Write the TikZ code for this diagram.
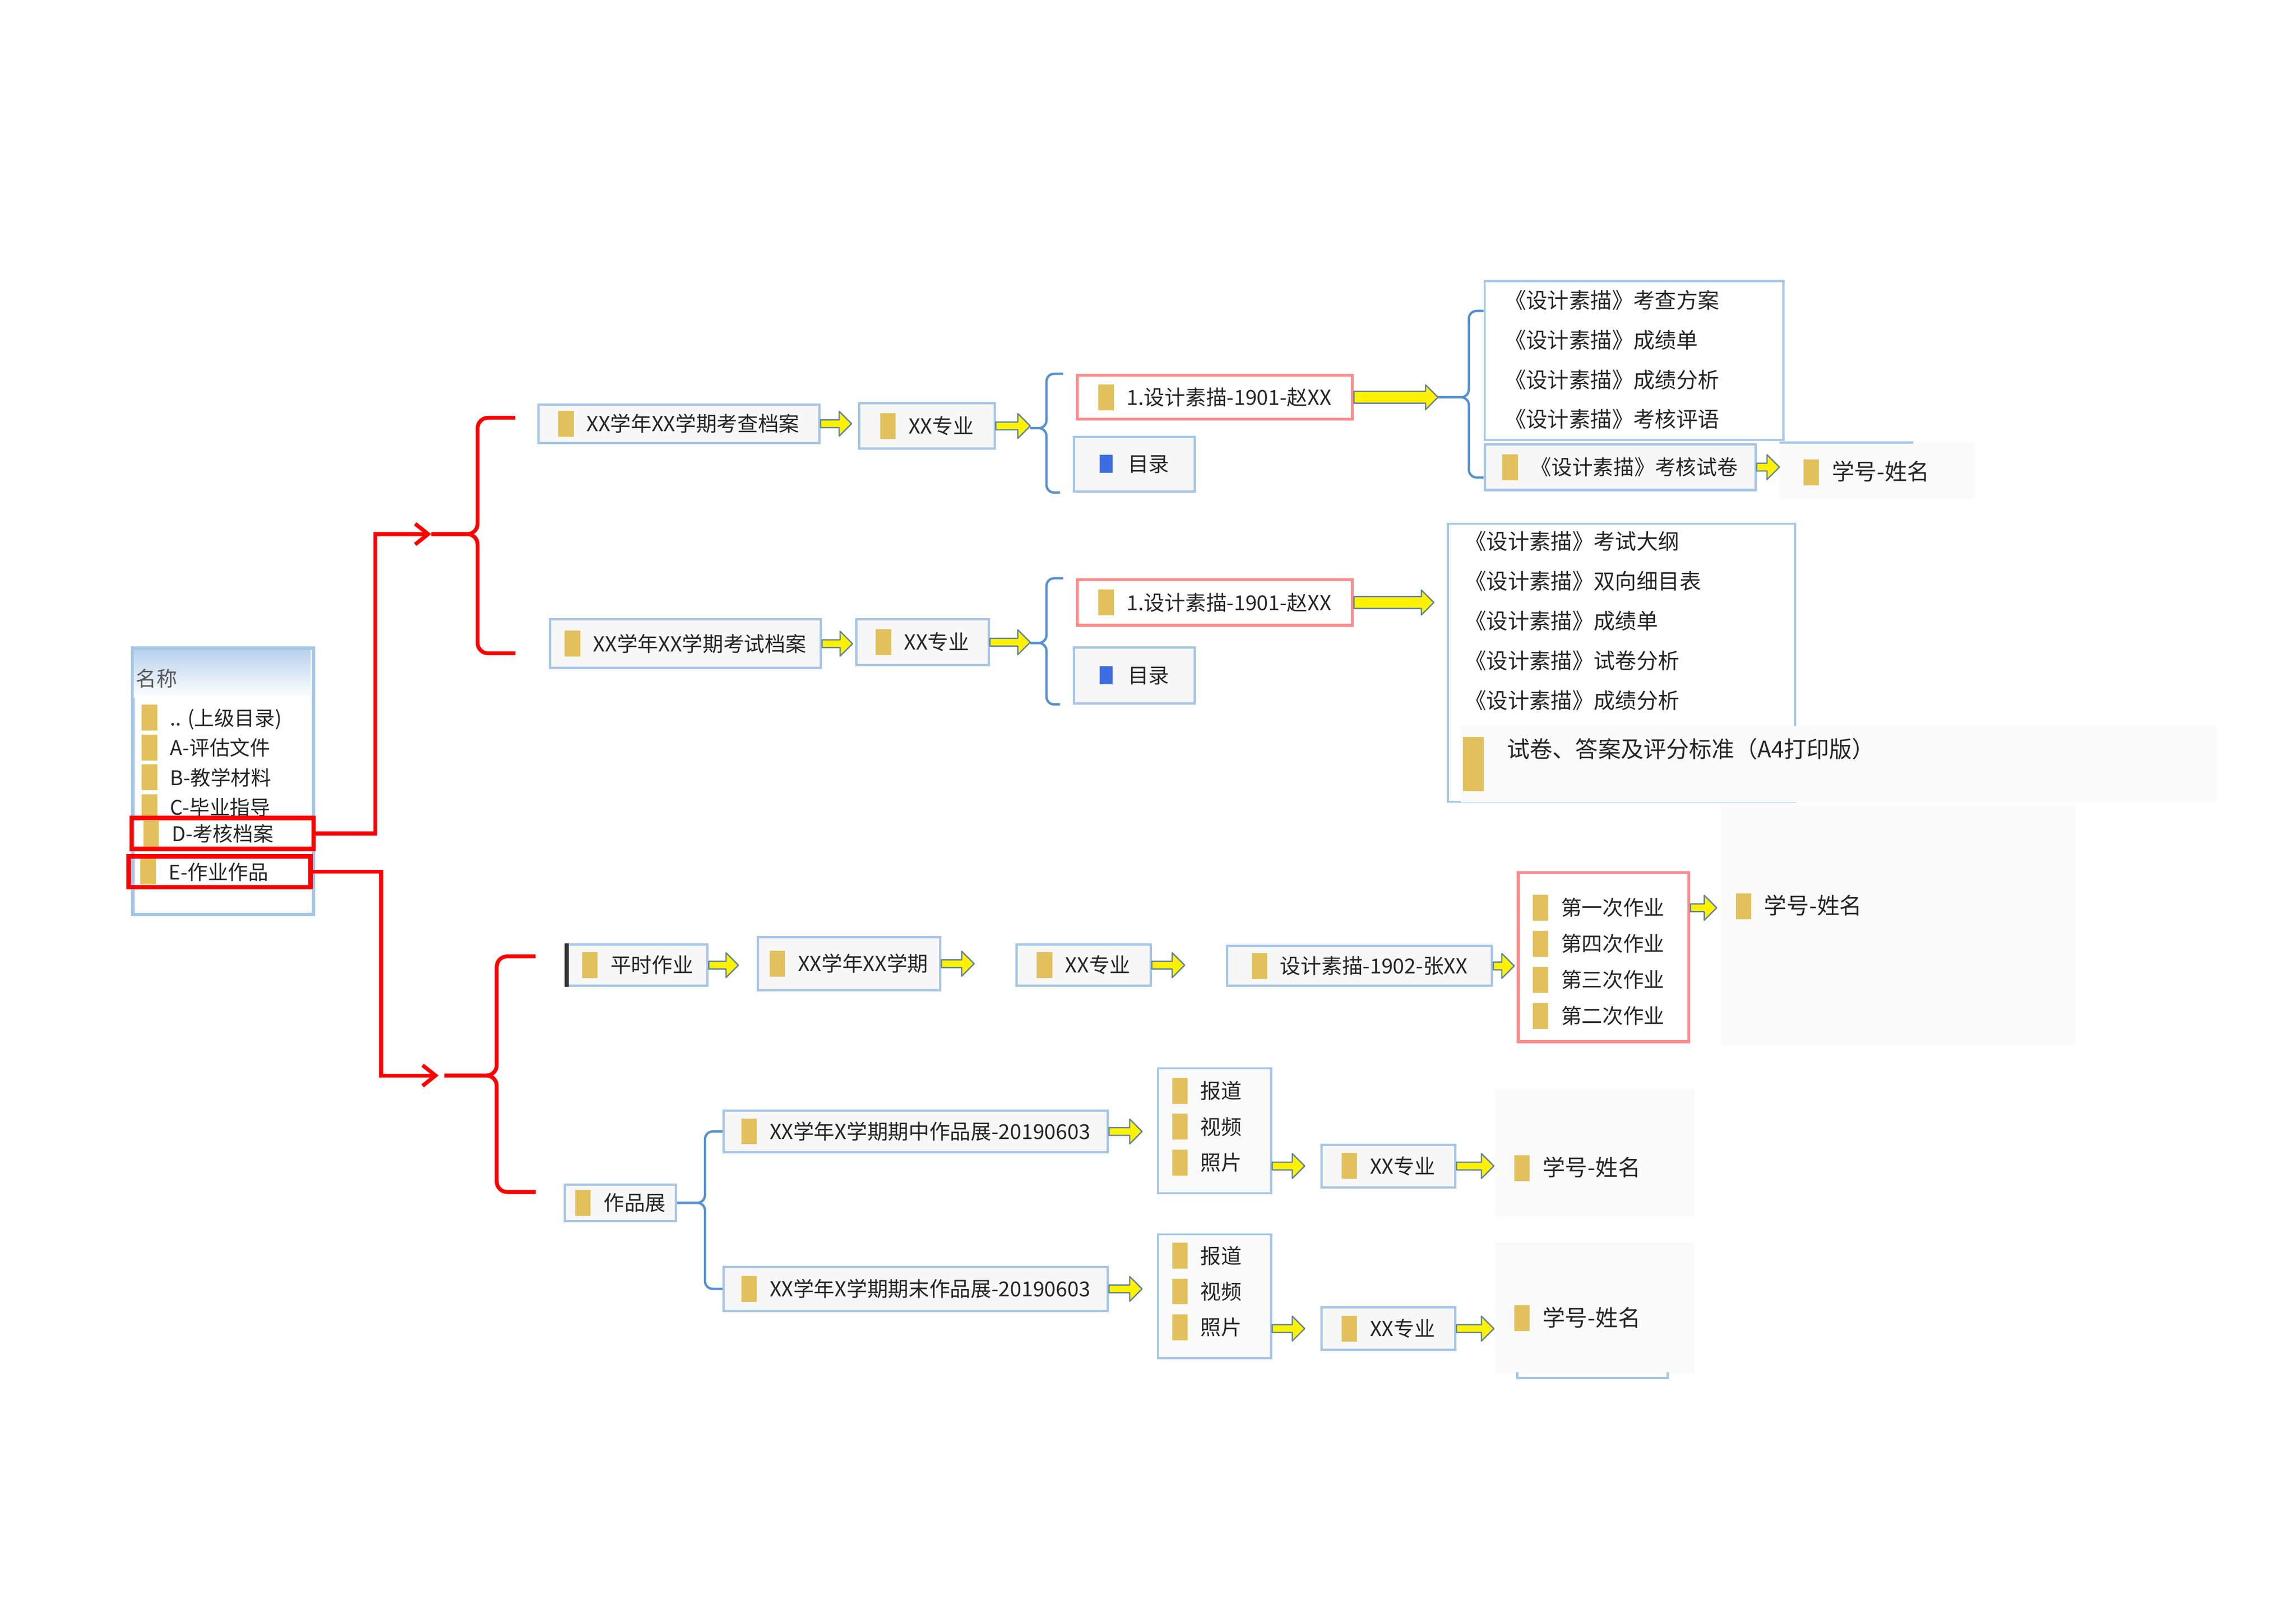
\documentclass[tikz,border=0pt]{standalone}
\usepackage{fontspec}
\setmainfont{Noto Sans CJK SC}
\usepackage{tikz}
\usetikzlibrary{calc,positioning,arrows.meta}

\definecolor{boxblue}{RGB}{165,198,232}
\definecolor{braceblue}{RGB}{85,145,210}
\definecolor{fold}{RGB}{226,193,92}
\definecolor{docblue}{RGB}{60,110,225}
\definecolor{edgeblue}{RGB}{95,130,160}
\definecolor{lightred}{RGB}{255,140,140}

\newcommand{\fico}{\textcolor{fold}{\rule[-2pt]{6pt}{10pt}}\hspace{5pt}}
\newcommand{\dico}{\textcolor{docblue}{\rule[-0.5pt]{5pt}{7pt}}\hspace{6pt}}

\tikzset{
	fbox/.style={draw=boxblue, line width=0.9pt, fill=black!3, anchor=west, inner xsep=4pt, inner ysep=0pt, text=black!85, font=\fontsize{8}{9}\selectfont},
	rbox/.style={fbox, draw=lightred, line width=1.1pt, fill=white},
	lbox/.style={draw=boxblue, line width=0.8pt, fill=white, anchor=west, inner sep=0pt},
	gbox/.style={fill=black!2, anchor=west, inner sep=0pt},
	item/.style={anchor=west, inner sep=0pt, text=black!85, font=\fontsize{8}{9}\selectfont},
	hbox/.style={draw=red, line width=1.7pt, anchor=west, inner xsep=4.5pt, inner ysep=0pt, text width=61.3pt, minimum height=0.42cm, text=black!85, font=\fontsize{7.8}{9}\selectfont},
	redln/.style={draw=red, line width=1.5pt},
	redarr/.style={redln, -{Straight Barb[length=5pt,width=8pt]}},
	bbrace/.style={draw=braceblue, line width=0.9pt, rounded corners=3pt},
	yarr/.style={fill=yellow, draw=edgeblue, line width=0.5pt, line join=round,
		to path={let \p1=(\tikztostart), \p2=(\tikztotarget) in
			(\x1,\y1+#1) -- (\x2-4.8pt,\y1+#1) -- (\x2-4.8pt,\y1+4.8pt) -- (\x2,\y1)
			-- (\x2-4.8pt,\y1-4.8pt) -- (\x2-4.8pt,\y1-#1) -- (\x1,\y1-#1) -- cycle}},
	yarr/.default=1.5pt
}

\begin{document}
\begin{tikzpicture}[x=0.02cm, y=-0.02cm]
		\useasboundingbox (0,0) rectangle (1560,1103);

		% left panel
		\node[lbox, minimum width=2.44cm, minimum height=3.6cm] (lp) at (90,531) {};
		\shade[top color=boxblue!80, bottom color=white] (91,442) rectangle (211,474);
		\draw[boxblue, line width=1pt] (lp.north west) rectangle (lp.south east);
		\node[item, text=black!65] (lp0) at (92,461) {名称};
		\foreach \lbl [count=\i] in {{.. (上级目录)},A-评估文件,B-教学材料,C-毕业指导}
			\node[item, font=\fontsize{7.8}{9}\selectfont] (lp-\i) at (96,{467.5+20.3*\i}) {\fico\lbl};
		\node[hbox] (lpd) at (88,566.5) {\fico D-考核档案};
		\node[hbox] (lpe) at (86,592.5) {\fico E-作业作品};

		% 考查档案
		\node[fbox, minimum width=3.82cm, minimum height=0.52cm] (kc) at (365,288) {\fico XX学年XX学期考查档案};
		\node[fbox, minimum width=1.84cm, minimum height=0.62cm] (kcz) at (583,289.5) {\fico XX专业};
		\node[rbox, minimum width=3.74cm, minimum height=0.6cm] (kcs) at (731,270) {\fico 1.设计素描-1901-赵XX};
		\node[fbox, minimum width=1.64cm, minimum height=0.74cm] (kcm) at (729,315.5) {\dico 目录};
		\node[lbox, minimum width=4.06cm, minimum height=2.16cm] (kcl) at (1008,245) {};
		\foreach \lbl [count=\i] in {考查方案,成绩单,成绩分析,考核评语}
			\node[item, font=\fontsize{8.3}{9}\selectfont] (kcl-\i) at (1022,{177+27*\i}) {《设计素描》\lbl};
		\node[fbox, minimum width=3.68cm, minimum height=0.62cm] (kcj) at (1008,317.5) {\fico 《设计素描》考核试卷};
		\node[gbox, minimum width=2.64cm, minimum height=0.76cm] (kcx) at (1209,320) {};
		\draw[boxblue, line width=0.9pt] (kcx.north west) -- ++(91,0);
		\node[item, font=\fontsize{8.7}{9}\selectfont] (kcxt) at (1225,321) {\fico 学号-姓名};

		% 考试档案
		\node[fbox, minimum width=3.68cm, minimum height=0.66cm] (ks) at (373,437.5) {\fico XX学年XX学期考试档案};
		\node[fbox, minimum width=1.8cm, minimum height=0.62cm] (ksz) at (581,436.5) {\fico XX专业};
		\node[rbox, minimum width=3.74cm, minimum height=0.62cm] (kss) at (731,409.5) {\fico 1.设计素描-1901-赵XX};
		\node[fbox, minimum width=1.64cm, minimum height=0.76cm] (ksm) at (729,459) {\dico 目录};
		\node[lbox, minimum width=4.72cm, minimum height=3.78cm] (ksl) at (983,450.5) {};
		\foreach \lbl [count=\i] in {考试大纲,双向细目表,成绩单,试卷分析,成绩分析}
			\node[item, font=\fontsize{8.3}{9}\selectfont] (ksl-\i) at (995,{341+27*\i}) {《设计素描》\lbl};
		\node[gbox, anchor=north west, minimum height=1.04cm, text width=10.28cm, align=left, text=black!85, font=\fontsize{8.8}{10}\selectfont] (ksa) at (992,493)
			{\hspace*{1pt}\textcolor{fold}{\rule[-13pt]{8pt}{21pt}}\hspace{9pt}试卷、答案及评分标准（A4打印版）};

		% 平时作业
		\node[fbox, minimum width=1.9cm, minimum height=0.56cm] (ps) at (385,656) {\fico 平时作业};
		\draw[black!80, line width=1.6pt] (ps.north west) -- (ps.south west);
		\node[fbox, minimum width=2.48cm, minimum height=0.72cm] (pxq) at (514,655) {\fico XX学年XX学期};
		\node[fbox, minimum width=1.82cm, minimum height=0.56cm] (pz) at (690,656) {\fico XX专业};
		\node[fbox, minimum width=3.6cm, minimum height=0.54cm] (psj) at (833,656.5) {\fico 设计素描-1902-张XX};
		\node[rbox, minimum width=2.32cm, minimum height=2.3cm] (phw) at (1030.6,650.5) {};
		\foreach \lbl [count=\i] in {第一次作业,第四次作业,第三次作业,第二次作业}
			\node[item] (phw-\i) at (1041,{592.5+24.5*\i}) {\fico\lbl};
		\node[gbox, minimum width=4.82cm, minimum height=3.26cm] (pxm) at (1169,628.5) {};
		\node[item, font=\fontsize{8.7}{9}\selectfont] (pxmt) at (1179,616) {\fico 学号-姓名};

		% 作品展
		\node[fbox, minimum width=1.48cm, minimum height=0.5cm] (zpz) at (383,817.5) {\fico 作品展};
		\node[fbox, minimum width=5.22cm, minimum height=0.57cm] (zq) at (491,769) {\fico XX学年X学期期中作品展-20190603};
		\node[fbox, minimum width=5.22cm, minimum height=0.6cm] (zm) at (491,876) {\fico XX学年X学期期末作品展-20190603};
		\node[lbox, fill=black!2, minimum width=1.54cm, minimum height=1.7cm] (zql) at (786,768.5) {};
		\foreach \lbl [count=\i] in {报道,视频,照片}
			\node[item] (zql-\i) at (796,{717.2+24.3*\i}) {\fico\lbl};
		\node[lbox, fill=black!2, minimum width=1.54cm, minimum height=1.68cm] (zml) at (786,881) {};
		\foreach \lbl [count=\i] in {报道,视频,照片}
			\node[item] (zml-\i) at (796,{829.2+24.3*\i}) {\fico\lbl};
		\node[fbox, minimum width=1.82cm, minimum height=0.58cm] (zqz) at (897,792.5) {\fico XX专业};
		\node[fbox, minimum width=1.82cm, minimum height=0.58cm] (zmz) at (897,903) {\fico XX专业};
		\node[gbox, minimum width=2.72cm, minimum height=1.74cm] (zqx) at (1015,783.3) {};
		\node[item, font=\fontsize{8.7}{9}\selectfont] (zqxt) at (1028.5,794) {\fico 学号-姓名};
		\node[gbox, minimum width=2.72cm, minimum height=1.77cm] (zmx) at (1015,889) {};
		\node[item, font=\fontsize{8.7}{9}\selectfont] (zmxt) at (1028.5,896) {\fico 学号-姓名};
		\draw[boxblue, line width=0.9pt] (1031,932.7) -- (1031,936.5) -- (1133,936.5) -- (1133,932.7);

		% red links
		\coordinate (rj1) at (255,363);
		\coordinate (ra1) at (293,363);
		\coordinate (rb1) at (324.5,363);
		\draw[redarr] (lpd.east) -| (rj1) -- (ra1);
		\draw[redln, rounded corners=4pt, shorten >=8.5pt] (ra1) -- (rb1) |- ([yshift=2.3pt]kc.west);
		\draw[redln, rounded corners=4pt, shorten >=13pt] (ra1) -- (rb1) |- ([yshift=-3.7pt]ks.west);
		\coordinate (rj2) at (259,731);
		\coordinate (ra2) at (298,731);
		\coordinate (rs2) at (302,731);
		\coordinate (rb2) at (337.5,731);
		\draw[redarr] (lpe.east) -| (rj2) -- (ra2);
		\draw[redln, rounded corners=4pt, shorten >=12pt] (rs2) -- (rb2) |- ([yshift=3.4pt]ps.west);
		\draw[redln, rounded corners=4pt, shorten >=10.8pt] (rs2) -- (rb2) |- ([yshift=4.2pt]zpz.west);

		% blue braces
		\coordinate (bt1) at (700,291);
		\coordinate (bx1) at (711,291);
		\draw[bbrace, shorten >=5pt] (bt1) -- (bx1) |- (kcs.north west);
		\draw[bbrace, shorten >=5pt] (bt1) -- (bx1) |- (kcm.south west);
		\coordinate (bt2) at (977,270);
		\coordinate (bx2) at (998,270);
		\draw[bbrace] (bt2) -- (bx2) |- ($(kcl.north west)+(0,21)$);
		\draw[bbrace] (bt2) -- (bx2) |- ([yshift=-4pt]kcj.west);
		\coordinate (bt3) at (700,437);
		\coordinate (bx3) at (711,437);
		\draw[bbrace, shorten >=5pt] (bt3) -- (bx3) |- (kss.north west);
		\draw[bbrace, shorten >=5pt] (bt3) -- (bx3) |- (ksm.south west);
		\coordinate (bx5) at (479,817.5);
		\draw[bbrace] (zpz.east) -- (bx5) |- (zq.west);
		\draw[bbrace] (zpz.east) -- (bx5) |- (zm.west);

		% yellow arrows
		\draw[yarr] (kc.east) to ([xshift=-2.5pt]kcz.west);
		\draw[yarr] (kcz.east) to (bt1);
		\draw[yarr=2.3pt] (kcs.east) to (bt2);
		\draw[yarr] (kcj.east) to (kcx.west);
		\draw[yarr] (ks.east) to ([xshift=-1pt]ksz.west);
		\draw[yarr] (ksz.east) to (bt3);
		\draw[yarr=2.3pt] (kss.east) to ([xshift=-5pt]ksl.west);
		\draw[yarr] (ps.east) to ([xshift=-7pt]pxq.west);
		\draw[yarr] (pxq.east) to ([xshift=-16pt]pz.west);
		\draw[yarr] (pz.east) to ([xshift=-16pt]psj.west);
		\draw[yarr] (psj.east) to ([xshift=-1pt]phw.west);
		\draw[yarr] (phw.east |- phw-1) to ([xshift=-1.5pt]pxm.west);
		\draw[yarr] (zq.east) to ([xshift=-5.7pt]zql.west);
		\draw[yarr] (zql.east |- zqz) to ([xshift=-6pt]zqz.west);
		\draw[yarr] (zqz.east) to (zqx.west);
		\draw[yarr] (zm.east) to ([xshift=-5.7pt]zml.west);
		\draw[yarr] (zml.east |- zmz) to ([xshift=-6pt]zmz.west);
		\draw[yarr] (zmz.east) to (zmx.west);
\end{tikzpicture}
\end{document}
